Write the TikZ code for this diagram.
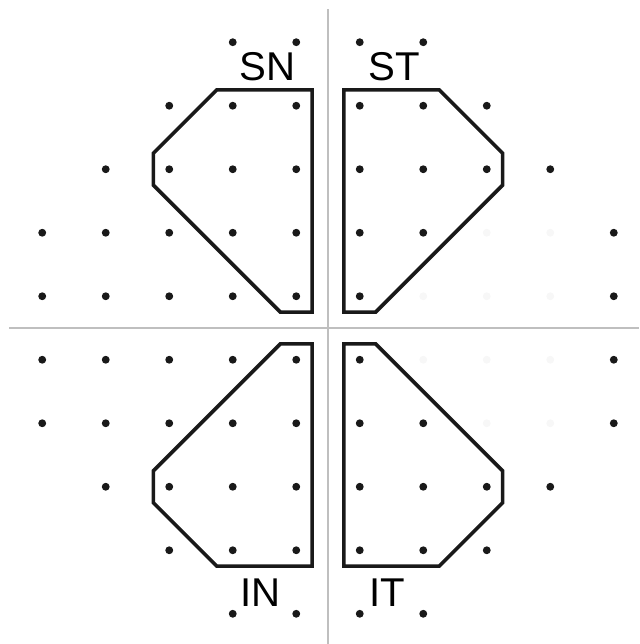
\documentclass[tikz,border=0pt]{standalone}
\usepackage{fontspec}
\setmainfont{Liberation Sans}
\usetikzlibrary{positioning}

\begin{document}
\begin{tikzpicture}[
    axis/.style={draw=black!25, line width=0.5pt},
    zone/.style={draw=black!90, line width=1.6pt, line join=miter},
    pt/.style={fill=black!90},
    ghost/.style={fill=black!3},
    lbl/.style={font=\fontsize{18}{18}\selectfont, inner sep=0pt, anchor=base}
  ]
  \useasboundingbox (-5.165,-4.976) rectangle (4.898,5.165);

  % meridians
  \draw[axis] (0,5.02) -- (0,-4.976);
  \draw[axis] (-5.02,0) -- (4.898,0);

  % test points, upper half mirrored to lower half
  \foreach \s in {1,-1} {
    \foreach \y/\xs in {4.5/{-1.5,-0.5,0.5,1.5},
                        3.5/{-2.5,-1.5,-0.5,0.5,1.5,2.5},
                        2.5/{-3.5,-2.5,-1.5,-0.5,0.5,1.5,2.5,3.5},
                        1.5/{-4.5,-3.5,-2.5,-1.5,-0.5,0.5,1.5,4.5},
                        0.5/{-4.5,-3.5,-2.5,-1.5,-0.5,0.5,4.5}}
      \foreach \x in \xs
        \fill[pt] (\x,\s*\y) circle (0.062);
    % barely visible points
    \foreach \y/\xs in {1.5/{2.5,3.5}, 0.5/{1.5,2.5,3.5}}
      \foreach \x in \xs
        \fill[ghost] (\x,\s*\y) circle (0.062);
  }

  % sectors
  \foreach \sx/\sy in {1/1,-1/1,1/-1,-1/-1}
    \draw[zone, xscale=\sx, yscale=\sy]
      (-0.25,3.75) -- (-1.75,3.75) -- (-2.75,2.75) -- (-2.75,2.25)
      -- (-0.75,0.25) -- (-0.25,0.25) -- cycle;

  \node[lbl] (sn) at (-0.95,3.89) {SN};
  \node[lbl] (st) at (1.04,3.89) {ST};
  \node[lbl] (in) at (-1.06,-4.39) {IN};
  \node[lbl] (it) at (0.93,-4.39) {IT};
\end{tikzpicture}
\end{document}
